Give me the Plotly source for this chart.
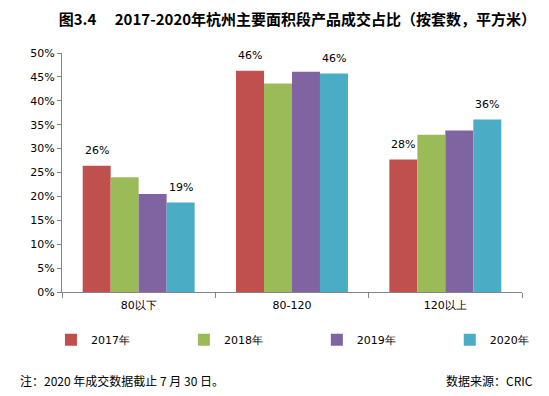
import plotly.graph_objects as go

categories = ["80以下", "80-120", "120以上"]
series_names = ["2017年", "2018年", "2019年", "2020年"]
v2017 = [26.4, 46.3, 27.7]
v2018 = [24.0, 43.6, 32.9]
v2019 = [20.5, 46.1, 33.8]
v2020 = [18.7, 45.7, 36.1]
labels2017 = ["26%", "46%", "28%"]
labels2020 = ["19%", "46%", "36%"]
colors = ["#C0504D", "#9BBB59", "#8064A2", "#4BACC6"]
yticks = list(range(0, 51, 5))
ytick_text = [f"{t}%" for t in yticks]

title = "图3.4　 2017-2020年杭州主要面积段产品成交占比（按套数，平方米）"
note = "注：2020 年成交数据截止 7 月 30 日。"
source = "数据来源：CRIC"

tick_font = dict(family="DejaVu Sans", size=11, color="#000000")
cjk = "Noto Sans CJK SC"

legend_names = ["legend", "legend2", "legend3", "legend4"]
legend_x = [-0.024, 0.265, 0.554, 0.843]

fig = go.Figure()
for name, vals, col, lg in zip(series_names, [v2017, v2018, v2019, v2020], colors, legend_names):
    fig.add_trace(go.Bar(x=categories, y=vals, name=name, legend=lg,
                         marker=dict(color=col, line=dict(width=0))))

# data labels above red (first) and blue (last) bars
for cat, val, lab in zip(categories, v2017, labels2017):
    fig.add_annotation(x=cat, y=val, text=lab, showarrow=False, xshift=-42, yshift=15,
                       font=tick_font)
for cat, val, lab in zip(categories, v2020, labels2020):
    fig.add_annotation(x=cat, y=val, text=lab, showarrow=False, xshift=42, yshift=15,
                       font=tick_font)

fig.add_annotation(xref="paper", yref="paper", x=-0.096, y=-0.372, xanchor="left", yanchor="middle",
                   text=note, showarrow=False, font=dict(family=cjk, size=12, color="#000"))
fig.add_annotation(xref="paper", yref="paper", x=1.028, y=-0.372, xanchor="right", yanchor="middle",
                   text=source, showarrow=False, font=dict(family=cjk, size=12, color="#000"))

legend_common = dict(orientation="h", xanchor="left", y=-0.2, yanchor="middle",
                     font=dict(family="DejaVu Sans", size=11, color="#000"),
                     bgcolor="rgba(0,0,0,0)")
layout_legends = {lg: dict(legend_common, x=lx) for lg, lx in zip(legend_names, legend_x)}

fig.update_layout(
    width=541, height=388,
    margin=dict(l=54, r=27, t=45, b=104, autoexpand=False),
    paper_bgcolor="white", plot_bgcolor="white",
    barmode="group", bargap=0.27, bargroupgap=0,
    title=dict(text=title, x=0.535, xanchor="center", y=0.969, yanchor="middle",
               font=dict(family=cjk, size=15, color="#000", weight="bold")),
    showlegend=True,
    xaxis=dict(showline=True, linecolor="#868686", linewidth=1, ticks="outside", tickson="boundaries",
               ticklen=5, tickcolor="#868686", tickfont=dict(family="DejaVu Sans", size=11, color="#000"),
               ticklabelstandoff=3, showgrid=False, mirror=False, automargin=False),
    yaxis=dict(range=[0, 50], tickvals=yticks, ticktext=ytick_text, showline=True, linecolor="#868686",
               linewidth=1, ticks="outside", ticklen=4, tickcolor="#868686", tickfont=tick_font,
               showgrid=False, zeroline=False, automargin=False),
    **layout_legends,
)

fig.write_html("out.html")
